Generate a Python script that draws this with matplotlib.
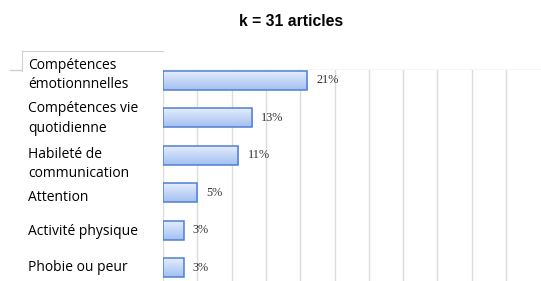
import matplotlib
matplotlib.use("Agg")
import matplotlib.pyplot as plt
import numpy as np
from matplotlib.lines import Line2D
from matplotlib.colors import LinearSegmentedColormap
import matplotlib.transforms as mtransforms

# ---- data ----
title = "k = 31 articles"
categories = ["Compétences\némotionnnelles", "Compétences vie\nquotidienne",
              "Habileté de\ncommunication", "Attention", "Activité physique",
              "Phobie ou peur"]
values = [21, 13, 11, 5, 3, 3]
value_labels = ["21%", "13%", "11%", "5%", "3%", "3%"]
grid_ticks = [0, 5, 10, 15, 20, 25, 30, 35, 40, 45, 50]

# ---- style ----
W, H = 541, 281
DPI = 100
label_dy_px = [-5, 1, 9, 5, 1, 0]   # vertical nudges of category labels (px)

fig = plt.figure(figsize=(W / DPI, H / DPI), dpi=DPI)
fig.patch.set_facecolor("white")

def fx(px):
    return px / W

def fy(py):
    return 1 - py / H

ax = fig.add_axes([fx(163), 0, fx(W) - fx(163), fy(70)])
ax.set_facecolor("white")

y = np.arange(len(values))
bars = ax.barh(y, values, height=0.5, facecolor="none", edgecolor="#4f7fd3",
               linewidth=1.1, zorder=4)

cmap = LinearSegmentedColormap.from_list("g", ["#e4edfc", "#a3c0f1"])
grad = np.linspace(0, 1, 64).reshape(-1, 1)
for b in bars:
    x0, yb = b.get_x(), b.get_y()
    w, h = b.get_width(), b.get_height()
    im = ax.imshow(grad, cmap=cmap, aspect="auto", zorder=3,
                   extent=[x0, x0 + w, yb + h, yb], origin="upper",
                   interpolation="bilinear")
    im.set_clip_path(b)

ax.set_xlim(0, 55.1)
ax.set_ylim(5.35, -0.27)

for t in grid_ticks:
    ax.axvline(t, color="#dcdcdc", linewidth=1.0, zorder=1)

for s in ax.spines.values():
    s.set_visible(False)
ax.set_xticks([])
ax.set_yticks([])

# value labels
for i, (v, lab) in enumerate(zip(values, value_labels)):
    ax.annotate(lab, xy=(v, i), xytext=(6.5, 0), textcoords="offset points",
                ha="left", va="center", fontsize=8.8, family="Liberation Serif",
                color="#333333", zorder=5)

# top plot line and label box
fig.add_artist(Line2D([fx(10), fx(W)], [fy(70), fy(70)], color="#d0d0d0",
                      linewidth=1.0, transform=fig.transFigure, zorder=0))
fig.patches.append(plt.Rectangle((fx(22), 0), fx(163) - fx(22), fy(51),
                                 transform=fig.transFigure, facecolor="white",
                                 edgecolor="none", zorder=2))
fig.add_artist(Line2D([fx(22), fx(163)], [fy(51), fy(51)], color="#d0d0d0",
                      linewidth=0.8, transform=fig.transFigure, zorder=3))
fig.add_artist(Line2D([fx(22), fx(22)], [fy(51), fy(71)], color="#d0d0d0",
                      linewidth=0.8, transform=fig.transFigure, zorder=3))

# category labels
for i, (cat, dy) in enumerate(zip(categories, label_dy_px)):
    trans = mtransforms.blended_transform_factory(fig.transFigure, ax.transData)
    off = mtransforms.ScaledTranslation(0, -dy / DPI, fig.dpi_scale_trans)
    fig.text(fx(28), i, cat, transform=trans + off, ha="left", va="center",
             fontsize=10, family="Open Sans", color="#000000",
             linespacing=1.4, zorder=4)

fig.text(fx(291), fy(22), title, ha="center", va="center", fontsize=11.3,
         fontweight="bold", family="Liberation Sans", color="#000000")

fig.savefig("out.png", dpi=DPI, facecolor="white")
